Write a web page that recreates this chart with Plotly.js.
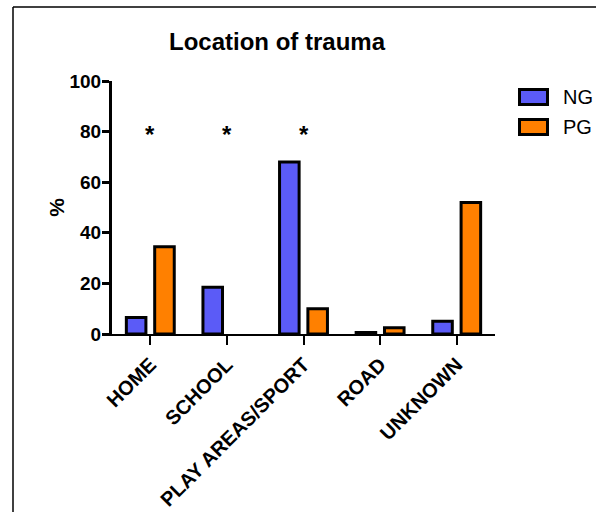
<!DOCTYPE html>
<html>
<head>
<meta charset="utf-8">
<script src="https://cdn.plot.ly/plotly-3.0.1.min.js"></script>
<style>
  html, body { margin: 0; padding: 0; background: #fff; }
  #chart { width: 596px; height: 512px; }
</style>
</head>
<body>
<div id="chart"></div>
<script>
// ---- data ----
const categories = ["HOME", "SCHOOL", "PLAY AREAS/SPORT", "ROAD", "UNKNOWN"];
const seriesNames = ["NG", "PG"];
const ngValues = [6.5, 18.5, 68, 0.6, 5];
const pgValues = [34.5, 0, 10, 2.5, 52];
const significance = ["*", "*", "*", "", ""];
const sigLevel = 79;
const yTicks = [0, 20, 40, 60, 80, 100];

// ---- style ----
const W = 596, H = 512;
const M = { l: 112, r: 101, t: 81, b: 178 };
const colors = ["#5b5bf7", "#ff8000"];
const FONT = "Arial, 'Liberation Sans', sans-serif";

const plotW = W - M.l - M.r, plotH = H - M.t - M.b;
const px2x = p => (p - M.l) / plotW;
const px2y = p => (H - M.b - p) / plotH;

const traces = [ngValues, pgValues].map((vals, i) => ({
  type: "bar",
  name: seriesNames[i],
  x: categories,
  y: vals,
  marker: {
    color: colors[i],
    line: { color: "#000", width: vals.map(v => (v > 0 ? 3 : 0)) }
  },
  showlegend: false,
  hoverinfo: "x+y+name"
}));

const annotations = [];
significance.forEach((s, i) => {
  if (s) annotations.push({
    x: categories[i], y: sigLevel, xref: "x", yref: "y",
    text: "<b>" + s + "</b>", showarrow: false,
    font: { family: FONT, size: 24, color: "#000" },
    yanchor: "middle"
  });
});

const shapes = [];
// manual legend
seriesNames.forEach((n, i) => {
  const top = 89.5 + i * 30;
  shapes.push({
    type: "rect", xref: "paper", yref: "paper",
    x0: px2x(519.5), x1: px2x(547.5),
    y0: px2y(top), y1: px2y(top + 15),
    fillcolor: colors[i], line: { color: "#000", width: 3 }
  });
  annotations.push({
    xref: "paper", yref: "paper",
    x: px2x(561), y: px2y(top + 7.5),
    xanchor: "left", yanchor: "middle",
    text: n, showarrow: false,
    font: { family: FONT, size: 20, color: "#000" }
  });
});
// frame lines (left and top)
shapes.push({ type: "line", xref: "paper", yref: "paper",
  x0: px2x(13), x1: px2x(13), y0: px2y(7), y1: px2y(512),
  line: { color: "#000", width: 1.5 } });
shapes.push({ type: "line", xref: "paper", yref: "paper",
  x0: px2x(13), x1: px2x(596), y0: px2y(7), y1: px2y(7),
  line: { color: "#000", width: 1.5 } });

const layout = {
  width: W, height: H,
  margin: M,
  paper_bgcolor: "#fff", plot_bgcolor: "#fff",
  barmode: "group",
  bargap: 0.26,
  bargroupgap: 0.31,
  title: {
    text: "<b>Location of trauma</b>",
    font: { family: FONT, size: 24, color: "#000" },
    x: 277 / W, xanchor: "center",
    y: 1 - 42 / H, yanchor: "middle", yref: "container"
  },
  xaxis: {
    type: "category",
    range: [-0.5, 4.5],
    showline: true, linecolor: "#000", linewidth: 2,
    ticks: "outside", ticklen: 9, tickwidth: 2, tickcolor: "#000",
    tickangle: -45,
    tickfont: { family: FONT, size: 20, color: "#000", weight: "bold" },
    showgrid: false, zeroline: false, fixedrange: true
  },
  yaxis: {
    range: [0, 100],
    tickvals: yTicks,
    showline: true, linecolor: "#000", linewidth: 3,
    ticks: "outside", ticklen: 7, tickwidth: 3, tickcolor: "#000",
    ticklabelstandoff: -3,
    tickfont: { family: FONT, size: 19, color: "#000", weight: "bold" },
    title: { text: "<b>%</b>", font: { family: FONT, size: 21, color: "#000" }, standoff: 0 },
    showgrid: false, zeroline: false, fixedrange: true
  },
  annotations: annotations,
  shapes: shapes,
  showlegend: false
};

Plotly.newPlot("chart", traces, layout, { displayModeBar: false, staticPlot: true });
</script>
</body>
</html>
